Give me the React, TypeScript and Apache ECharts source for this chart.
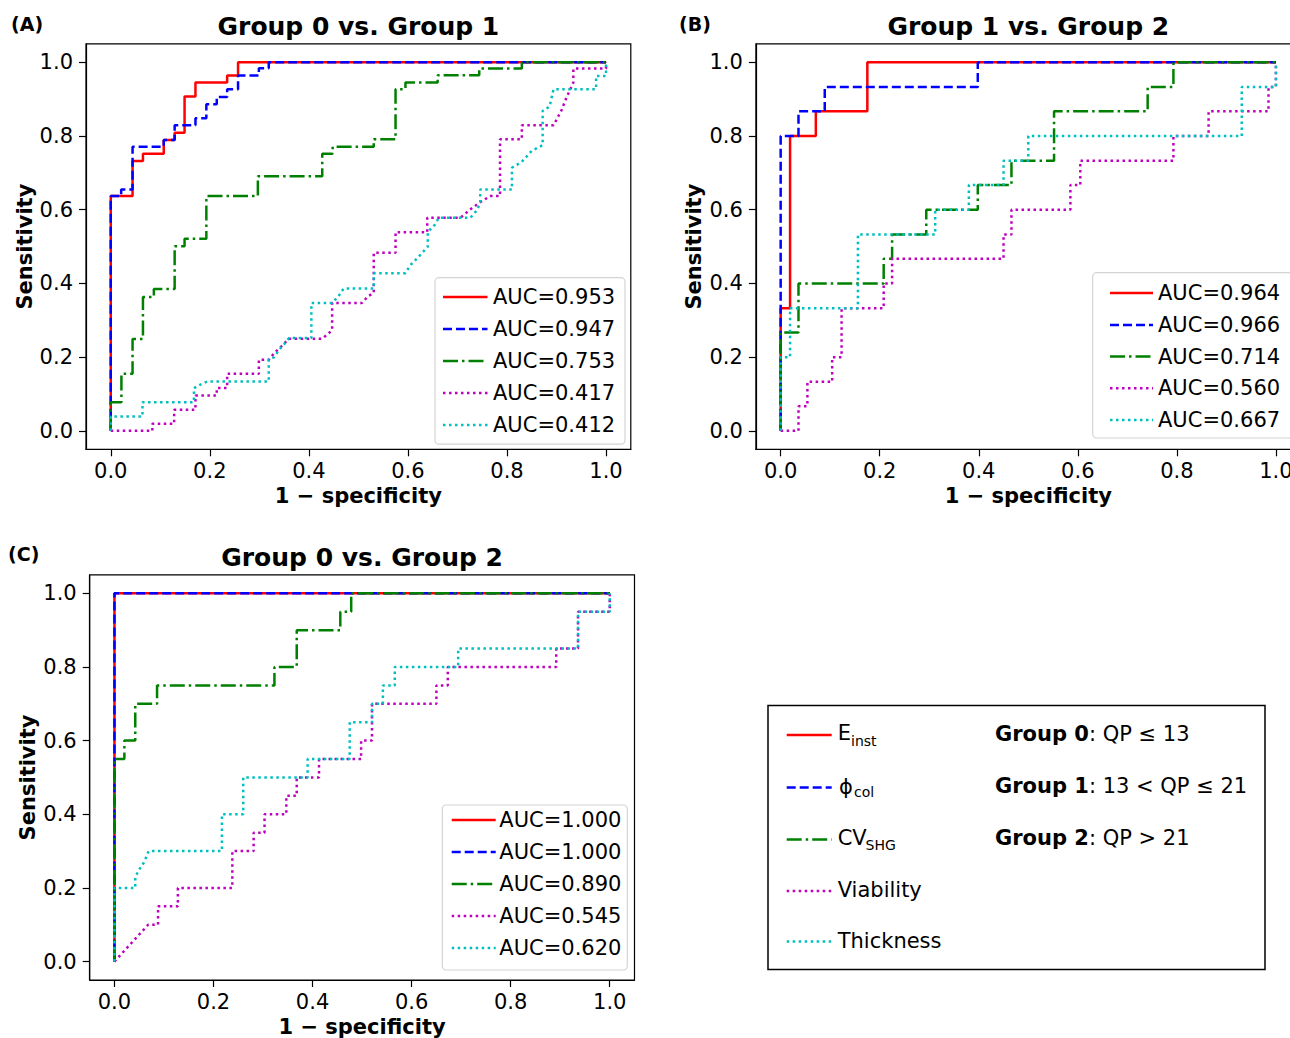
import React, { useEffect, useRef } from "react";
import * as echarts from "echarts";

const FONT = "'DejaVu Sans', 'Noto Sans', sans-serif";
const TICKS = [0, 0.2, 0.4, 0.6, 0.8, 1.0];

const titles = ["Group 0 vs. Group 1", "Group 1 vs. Group 2", "Group 0 vs. Group 2"];
const panelLabels = ["(A)", "(B)", "(C)"];
const xName = "1 \u2212 specificity";
const yName = "Sensitivity";

const aucA = ["AUC=0.953", "AUC=0.947", "AUC=0.753", "AUC=0.417", "AUC=0.412"];
const aucB = ["AUC=0.964", "AUC=0.966", "AUC=0.714", "AUC=0.560", "AUC=0.667"];
const aucC = ["AUC=1.000", "AUC=1.000", "AUC=0.890", "AUC=0.545", "AUC=0.620"];

// Panel A: Group 0 vs Group 1  ([1 - specificity, sensitivity])
const A_Einst = [[0,0],[0,0.637],[0.044,0.637],[0.044,0.732],[0.065,0.732],[0.065,0.752],[0.107,0.752],[0.107,0.789],[0.129,0.789],[0.129,0.809],[0.149,0.809],[0.149,0.907],[0.171,0.907],[0.171,0.945],[0.235,0.945],[0.235,0.964],[0.257,0.964],[0.257,1],[1,1]];
const A_Phi = [[0,0],[0,0.637],[0.021,0.637],[0.021,0.655],[0.044,0.655],[0.044,0.771],[0.107,0.771],[0.107,0.789],[0.129,0.789],[0.129,0.829],[0.171,0.829],[0.171,0.848],[0.193,0.848],[0.193,0.886],[0.214,0.886],[0.214,0.906],[0.235,0.906],[0.235,0.927],[0.257,0.927],[0.257,0.964],[0.299,0.964],[0.299,0.984],[0.319,0.984],[0.319,1],[1,1]];
const A_CV = [[0,0],[0,0.078],[0.0215,0.078],[0.0215,0.155],[0.044,0.155],[0.044,0.249],[0.065,0.249],[0.065,0.363],[0.087,0.363],[0.087,0.385],[0.129,0.385],[0.129,0.501],[0.149,0.501],[0.149,0.521],[0.193,0.521],[0.193,0.637],[0.297,0.637],[0.297,0.691],[0.427,0.691],[0.427,0.752],[0.448,0.752],[0.448,0.771],[0.531,0.771],[0.531,0.791],[0.575,0.791],[0.575,0.927],[0.595,0.927],[0.595,0.945],[0.66,0.945],[0.66,0.965],[0.744,0.965],[0.744,0.983],[0.83,0.983],[0.83,1],[1,1]];
const A_Viab = [[0,0],[0.084,0],[0.084,0.019],[0.128,0.019],[0.128,0.057],[0.171,0.057],[0.171,0.096],[0.214,0.096],[0.214,0.116],[0.235,0.116],[0.235,0.155],[0.299,0.155],[0.299,0.193],[0.319,0.193],[0.33,0.211],[0.345,0.23],[0.36,0.25],[0.427,0.25],[0.447,0.273],[0.447,0.347],[0.507,0.347],[0.52,0.366],[0.531,0.374],[0.531,0.483],[0.575,0.483],[0.575,0.539],[0.639,0.539],[0.639,0.578],[0.706,0.578],[0.725,0.6],[0.745,0.62],[0.766,0.637],[0.786,0.637],[0.786,0.791],[0.83,0.791],[0.83,0.829],[0.894,0.829],[0.91,0.87],[0.92,0.904],[0.934,0.945],[0.934,0.983],[1,0.983],[1,1]];
const A_Thick = [[0,0],[0,0.039],[0.064,0.039],[0.064,0.078],[0.168,0.078],[0.168,0.116],[0.18,0.125],[0.195,0.134],[0.319,0.134],[0.319,0.193],[0.33,0.2],[0.34,0.22],[0.35,0.235],[0.36,0.252],[0.405,0.252],[0.405,0.347],[0.447,0.347],[0.46,0.366],[0.47,0.386],[0.531,0.386],[0.531,0.428],[0.595,0.428],[0.605,0.45],[0.62,0.47],[0.64,0.5],[0.64,0.54],[0.655,0.56],[0.662,0.578],[0.726,0.578],[0.74,0.6],[0.746,0.62],[0.746,0.655],[0.81,0.655],[0.81,0.714],[0.83,0.73],[0.85,0.76],[0.872,0.775],[0.872,0.868],[0.886,0.88],[0.894,0.927],[0.98,0.927],[0.98,0.963],[1,0.963],[1,1]];

// Panel B: Group 1 vs Group 2
const B_Einst = [[0,0],[0,0.333],[0.019,0.333],[0.019,0.8],[0.071,0.8],[0.071,0.867],[0.175,0.867],[0.175,1],[1,1]];
const B_Phi = [[0,0],[0,0.8],[0.036,0.8],[0.036,0.867],[0.089,0.867],[0.089,0.933],[0.398,0.933],[0.398,1],[1,1]];
const B_CV = [[0,0],[0,0.267],[0.036,0.267],[0.036,0.4],[0.208,0.4],[0.208,0.467],[0.225,0.467],[0.225,0.533],[0.294,0.533],[0.294,0.6],[0.398,0.6],[0.398,0.667],[0.466,0.667],[0.466,0.733],[0.552,0.733],[0.552,0.867],[0.741,0.867],[0.741,0.933],[0.793,0.933],[0.793,1],[1,1]];
const B_Viab = [[0,0],[0.036,0],[0.036,0.067],[0.054,0.067],[0.054,0.133],[0.104,0.133],[0.104,0.2],[0.123,0.2],[0.123,0.333],[0.208,0.333],[0.208,0.4],[0.225,0.4],[0.225,0.467],[0.45,0.467],[0.45,0.533],[0.466,0.533],[0.466,0.6],[0.585,0.6],[0.585,0.667],[0.605,0.667],[0.605,0.733],[0.793,0.733],[0.793,0.8],[0.864,0.8],[0.864,0.867],[0.985,0.867],[0.985,0.933],[1,0.933],[1,1]];
const B_Thick = [[0,0],[0,0.2],[0.019,0.2],[0.019,0.333],[0.156,0.333],[0.156,0.533],[0.312,0.533],[0.312,0.6],[0.38,0.6],[0.38,0.667],[0.45,0.667],[0.45,0.733],[0.5,0.733],[0.5,0.8],[0.931,0.8],[0.931,0.933],[1,0.933],[1,1]];

// Panel C: Group 0 vs Group 2
const C_Einst = [[0,0],[0,1],[1,1]];
const C_Phi = [[0,0],[0,1],[1,1]];
const C_CV = [[0,0],[0,0.55],[0.02,0.55],[0.02,0.6],[0.042,0.6],[0.042,0.7],[0.086,0.7],[0.086,0.75],[0.323,0.75],[0.323,0.8],[0.368,0.8],[0.368,0.9],[0.456,0.9],[0.456,0.95],[0.478,0.95],[0.478,1],[1,1]];
const C_Viab = [[0,0],[0.068,0.1],[0.088,0.1],[0.088,0.15],[0.128,0.15],[0.128,0.2],[0.238,0.2],[0.238,0.3],[0.281,0.3],[0.281,0.35],[0.303,0.35],[0.303,0.4],[0.347,0.4],[0.347,0.45],[0.368,0.45],[0.368,0.5],[0.413,0.5],[0.413,0.55],[0.498,0.55],[0.498,0.6],[0.52,0.6],[0.52,0.7],[0.65,0.7],[0.65,0.75],[0.673,0.75],[0.673,0.8],[0.892,0.8],[0.892,0.85],[0.936,0.85],[0.936,0.95],[1,0.95],[1,1]];
const C_Thick = [[0,0],[0,0.2],[0.042,0.2],[0.042,0.23],[0.05,0.25],[0.06,0.27],[0.069,0.3],[0.217,0.3],[0.217,0.4],[0.26,0.4],[0.26,0.5],[0.39,0.5],[0.39,0.55],[0.475,0.55],[0.475,0.65],[0.52,0.65],[0.52,0.7],[0.542,0.7],[0.542,0.75],[0.566,0.75],[0.566,0.8],[0.694,0.8],[0.694,0.85],[0.936,0.85],[0.936,0.95],[1,0.95],[1,1]];

const panelCurves = [
  [A_Einst, A_Phi, A_CV, A_Viab, A_Thick],
  [B_Einst, B_Phi, B_CV, B_Viab, B_Thick],
  [C_Einst, C_Phi, C_CV, C_Viab, C_Thick],
];
const panelAuc = [aucA, aucB, aucC];

const LW = 2.5;
const STYLES = [
  { color: "#ff0000", dash: null },
  { color: "#0000ff", dash: [9, 4] },
  { color: "#008000", dash: [15, 4, 2.5, 4] },
  { color: "#bf00bf", dash: [2.5, 3.5] },
  { color: "#00bfbf", dash: [2.5, 3.5] },
];

// canvas wider than the page so panel B is cut off at the page edge like the reference
const CANVAS_W = 1320;
const GRIDS = [
  { left: 86.0, top: 43.9, width: 544.8, height: 405.4 },
  { left: 755.9, top: 43.9, width: 544.8, height: 405.4 },
  { left: 89.7, top: 574.9, width: 544.8, height: 405.2 },
];

// legend layout per panel
const LEGENDS = [
  { box: [435, 277.7, 190, 166.5], lx1: 443, lx2: 487.5, tx: 493, rows: [297, 329, 361, 393, 425] },
  { box: [1092.7, 272.7, 215, 165.3], lx1: 1110, lx2: 1153, tx: 1158, rows: [293, 325, 356.5, 388.3, 420] },
  { box: [442.3, 805, 185, 165], lx1: 451.7, lx2: 495.7, tx: 499.3, rows: [820, 852, 884, 916, 948] },
];

const groupDefs = [
  ["Group 0", ": QP \u2264 13"],
  ["Group 1", ": 13 < QP \u2264 21"],
  ["Group 2", ": QP > 21"],
];

function txt(text: string, x: number, y: number, o: any = {}) {
  return {
    type: "text",
    x,
    y,
    z: 110,
    silent: true,
    style: {
      text,
      fill: o.fill || "#000",
      fontSize: o.fontSize || 21,
      fontWeight: o.fontWeight || "normal",
      fontFamily: FONT,
      align: o.align || "left",
      textAlign: o.align || "left",
      verticalAlign: "middle",
      textVerticalAlign: "middle",
      rich: o.rich,
    },
  };
}

function seg(x1: number, x2: number, y: number, k: number, z = 110) {
  const s = STYLES[k];
  return {
    type: "line",
    z,
    silent: true,
    shape: { x1, y1: y, x2, y2: y },
    style: { stroke: s.color, lineWidth: LW, lineDash: s.dash || undefined },
  };
}

export default function App() {
  const ref = useRef<HTMLDivElement>(null);
  useEffect(() => {
    if (!ref.current) return;
    const chart = echarts.init(ref.current, null, { renderer: "svg" });

    const axisCommon = {
      type: "value",
      min: -0.05,
      max: 1.05,
      splitLine: { show: false },
      axisLine: { show: true, onZero: false, lineStyle: { color: "#000", width: 1.2 } },
      axisTick: { show: true, customValues: TICKS, length: 7, lineStyle: { color: "#000", width: 1.2 } },
      nameLocation: "middle",
      nameTextStyle: { fontSize: 21, fontWeight: "bold", fontFamily: FONT, color: "#000" },
    };

    const xAxis = GRIDS.map((_, i) => ({
      ...axisCommon,
      gridIndex: i,
      name: xName,
      nameGap: 36,
      axisLabel: { customValues: TICKS, formatter: (v: number) => v.toFixed(1), fontSize: 21, fontFamily: FONT, color: "#000", margin: 11 },
    }));
    const yAxis = GRIDS.map((_, i) => ({
      ...axisCommon,
      gridIndex: i,
      name: yName,
      nameGap: 51,
      axisLabel: { customValues: TICKS, formatter: (v: number) => v.toFixed(1), fontSize: 21, fontFamily: FONT, color: "#000", margin: 13 },
    }));

    const series: any[] = [];
    panelCurves.forEach((curves, p) => {
      curves.forEach((data, k) => {
        const s = STYLES[k];
        series.push({
          type: "line",
          name: panelAuc[p][k],
          xAxisIndex: p,
          yAxisIndex: p,
          data,
          symbol: "none",
          showSymbol: false,
          silent: true,
          z: 2 + k,
          lineStyle: { color: s.color, width: LW, type: s.dash || "solid" },
        });
      });
    });

    const graphic: any[] = [];
    // titles and panel labels
    GRIDS.forEach((g, i) => {
      const cx = g.left + g.width / 2;
      const ty = i === 2 ? 557 : 26;
      graphic.push(txt(titles[i], cx, ty, { fontSize: 25, fontWeight: "bold", align: "center" }));
    });
    graphic.push(txt(panelLabels[0], 11, 24, { fontSize: 19, fontWeight: "bold" }));
    graphic.push(txt(panelLabels[1], 679, 24, { fontSize: 19, fontWeight: "bold" }));
    graphic.push(txt(panelLabels[2], 8, 554, { fontSize: 19, fontWeight: "bold" }));

    // per-panel AUC legends
    LEGENDS.forEach((L, p) => {
      graphic.push({
        type: "rect",
        z: 105,
        silent: true,
        shape: { x: L.box[0], y: L.box[1], width: L.box[2], height: L.box[3], r: 4 },
        style: { fill: "rgba(255,255,255,0.85)", stroke: "#d4d4d4", lineWidth: 1.2 },
      });
      L.rows.forEach((ry, k) => {
        graphic.push(seg(L.lx1, L.lx2, ry, k));
        graphic.push(txt(panelAuc[p][k], L.tx, ry));
      });
    });

    // big legend box
    graphic.push({
      type: "rect",
      z: 105,
      silent: true,
      shape: { x: 768, y: 705.5, width: 497, height: 264 },
      style: { fill: "#fff", stroke: "#000", lineWidth: 1.5 },
    });
    const bigRows = [735, 787.5, 839.5, 891, 941.5];
    bigRows.forEach((ry, k) => graphic.push(seg(786.7, 831.7, ry, k)));
    graphic.push(txt("E", 837.7, 733));
    graphic.push(txt("inst", 851, 740.5, { fontSize: 14 }));
    graphic.push(txt("\u03d5", 839, 786.5));
    graphic.push(txt("col", 854, 792, { fontSize: 14 }));
    graphic.push(txt("CV", 837.7, 838));
    graphic.push(txt("SHG", 865.5, 844.5, { fontSize: 14 }));
    graphic.push(txt("Viability", 837.7, 890));
    graphic.push(txt("Thickness", 837.7, 941));
    const groupRows = [734, 786, 838];
    groupDefs.forEach((gd, i) => {
      graphic.push(
        txt(`{b|${gd[0]}}{n|${gd[1]}}`, 995, groupRows[i], {
          rich: {
            b: { fontSize: 21, fontWeight: "bold", fontFamily: FONT, fill: "#000", color: "#000" },
            n: { fontSize: 21, fontWeight: "normal", fontFamily: FONT, fill: "#000", color: "#000" },
          },
        })
      );
    });

    chart.setOption({
      animation: false,
      backgroundColor: "#fff",
      grid: GRIDS.map((g) => ({ ...g, show: true, borderColor: "#000", borderWidth: 1.2, backgroundColor: "transparent", containLabel: false })),
      xAxis,
      yAxis,
      series,
      graphic: { elements: graphic },
    });
    return () => chart.dispose();
  }, []);

  return (
    <div style={{ position: "fixed", left: 0, top: 0, width: 1290, height: 1038, overflow: "hidden", background: "#fff" }}>
      <div ref={ref} style={{ position: "absolute", left: 0, top: 0, width: CANVAS_W, height: 1038 }} />
    </div>
  );
}
